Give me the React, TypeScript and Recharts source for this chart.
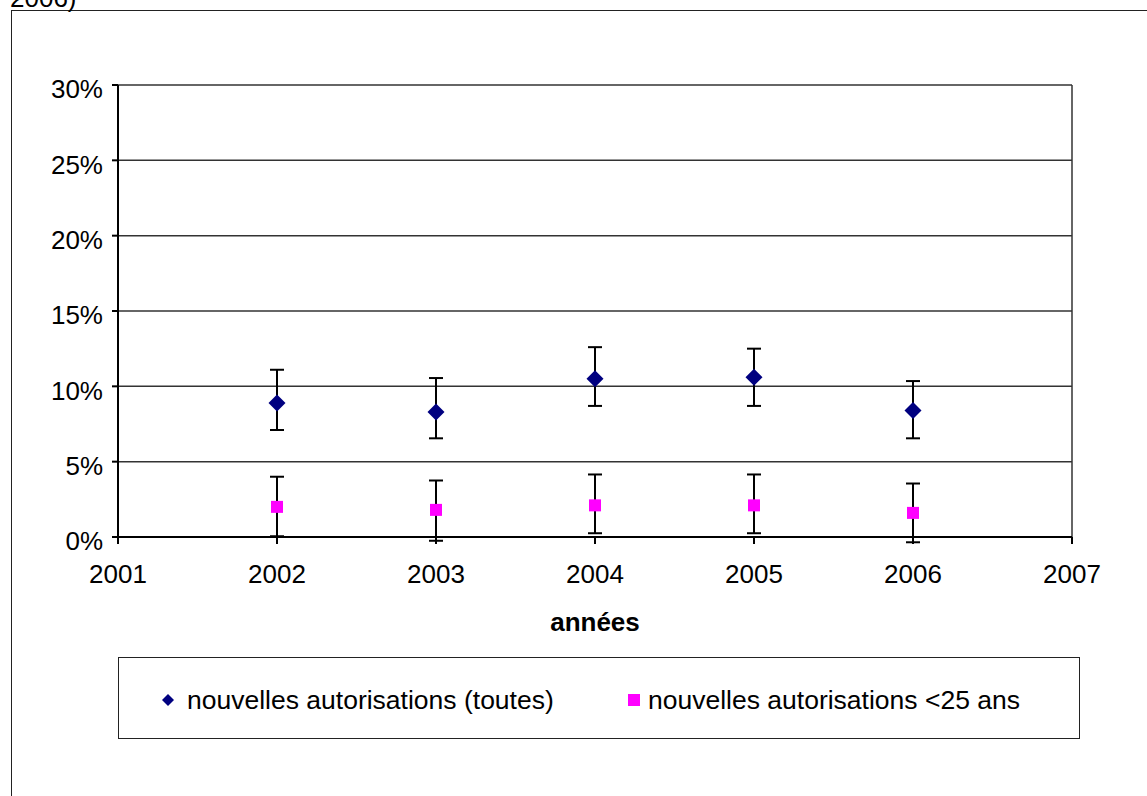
import React from "react";
import {
  ComposedChart,
  Scatter,
  ErrorBar,
  XAxis,
  YAxis,
  CartesianGrid,
  ReferenceLine,
  Legend,
  Label,
} from "recharts";

const YEARS = [2002, 2003, 2004, 2005, 2006];
const X_TICKS = [2001, 2002, 2003, 2004, 2005, 2006, 2007];
const Y_TICKS = [0, 5, 10, 15, 20, 25, 30];

// nouvelles autorisations (toutes), en % ; erreurs [basse, haute]
const TOUTES = [8.9, 8.3, 10.5, 10.6, 8.4];
const TOUTES_ERR = [
  [1.8, 2.2],
  [1.75, 2.25],
  [1.8, 2.1],
  [1.9, 1.9],
  [1.85, 1.95],
];

// nouvelles autorisations <25 ans, en %
const JEUNES = [2.0, 1.8, 2.1, 2.1, 1.6];
const JEUNES_ERR = [
  [1.95, 2.0],
  [2.05, 1.95],
  [1.85, 2.05],
  [1.85, 2.05],
  [1.95, 1.95],
];

const SERIES = [
  { key: "toutes", name: "nouvelles autorisations (toutes)", color: "#000080" },
  { key: "jeunes", name: "nouvelles autorisations <25 ans", color: "#FF00FF" },
];

const data = YEARS.map((year, i) => ({
  year,
  toutes: TOUTES[i],
  toutesErr: TOUTES_ERR[i],
  jeunes: JEUNES[i],
  jeunesErr: JEUNES_ERR[i],
}));

const FONT = "'Liberation Sans', Arial, Helvetica, sans-serif";

const Diamond = (props: any) => {
  const { cx, cy, fill } = props;
  const r = 8.5;
  return (
    <polygon
      points={`${cx},${cy - r} ${cx + r},${cy} ${cx},${cy + r} ${cx - r},${cy}`}
      fill={fill}
    />
  );
};

const Square = (props: any) => {
  const { cx, cy, fill } = props;
  const s = 12;
  return <rect x={cx - s / 2} y={cy - s / 2} width={s} height={s} fill={fill} />;
};

const legendIcon = (i: number, color: string) =>
  i === 0 ? (
    <svg width={12} height={12} style={{ marginRight: 13 }}>
      <polygon points="6,0 12,6 6,12 0,6" fill={color} />
    </svg>
  ) : (
    <svg width={12} height={12} style={{ marginRight: 8 }}>
      <rect x={0} y={0} width={12} height={12} fill={color} />
    </svg>
  );

const renderLegend = () => {
  const lefts = [43, 509];
  return (
    <div
      style={{
        position: "relative",
        width: "100%",
        height: "100%",
        fontFamily: FONT,
        fontSize: 26.5,
        color: "#000",
      }}
    >
      {SERIES.map((s, i) => (
        <div
          key={s.key}
          style={{
            position: "absolute",
            left: lefts[i],
            top: 2,
            height: "100%",
            display: "flex",
            alignItems: "center",
            whiteSpace: "nowrap",
          }}
        >
          {legendIcon(i, s.color)}
          <span>{s.name}</span>
        </div>
      ))}
    </div>
  );
};

export default function App() {
  return (
    <div
      style={{
        position: "absolute",
        left: 0,
        top: 0,
        width: 1147,
        height: 796,
        overflow: "hidden",
        background: "#fff",
        fontFamily: FONT,
      }}
    >
      <style>{`.recharts-scatter { clip-path: none; }`}</style>
      <div
        style={{
          position: "absolute",
          left: 11,
          top: 10,
          width: 1300,
          height: 1000,
          border: "1px solid #222",
        }}
      />
      <div
        style={{
          position: "absolute",
          left: 10,
          top: -15,
          fontSize: 26,
          lineHeight: "26px",
          color: "#000",
        }}
      >
        2006)
      </div>
      <div style={{ position: "absolute", left: 0, top: 0 }}>
        <ComposedChart
          width={1147}
          height={796}
          data={data}
          margin={{ top: 85, right: 75, bottom: 159, left: 0 }}
        >
          <CartesianGrid vertical={false} stroke="#333" strokeWidth={1.5} />
          <XAxis
            dataKey="year"
            type="number"
            domain={[2001, 2007]}
            ticks={X_TICKS}
            interval={0}
            height={100}
            tickSize={7}
            tickMargin={21}
            tick={{ fill: "#000", fontSize: 26 }}
            axisLine={{ stroke: "#000", strokeWidth: 2 }}
            tickLine={{ stroke: "#000", strokeWidth: 2 }}
          >
            <Label
              value="années"
              position="insideBottom"
              offset={6}
              fill="#000"
              fontSize={26}
              fontWeight="bold"
            />
          </XAxis>
          <YAxis
            type="number"
            domain={[0, 30]}
            ticks={Y_TICKS}
            allowDataOverflow
            interval={0}
            width={118}
            tickSize={6}
            tickMargin={9}
            tickFormatter={(v) => `${v}%`}
            tick={{ fill: "#000", fontSize: 26, dy: 4 }}
            axisLine={{ stroke: "#000", strokeWidth: 2 }}
            tickLine={{ stroke: "#000", strokeWidth: 2 }}
          />
          <ReferenceLine x={2007} stroke="#333" strokeWidth={1.5} />
          <Scatter
            name={SERIES[0].name}
            dataKey="toutes"
            fill={SERIES[0].color}
            shape={Diamond}
            isAnimationActive={false}
          >
            <ErrorBar
              dataKey="toutesErr"
              direction="y"
              width={7}
              stroke="#000"
              strokeWidth={2}
              isAnimationActive={false}
            />
          </Scatter>
          <Scatter
            name={SERIES[1].name}
            dataKey="jeunes"
            fill={SERIES[1].color}
            shape={Square}
            isAnimationActive={false}
          >
            <ErrorBar
              dataKey="jeunesErr"
              direction="y"
              width={7}
              stroke="#000"
              strokeWidth={2}
              isAnimationActive={false}
            />
          </Scatter>
          <Legend
            layout="horizontal"
            verticalAlign="middle"
            align="center"
            content={renderLegend}
            wrapperStyle={{
              left: 118,
              top: 657,
              width: 962,
              height: 82,
              border: "1px solid #222",
              boxSizing: "border-box",
              background: "#fff",
            }}
          />
        </ComposedChart>
      </div>
    </div>
  );
}
